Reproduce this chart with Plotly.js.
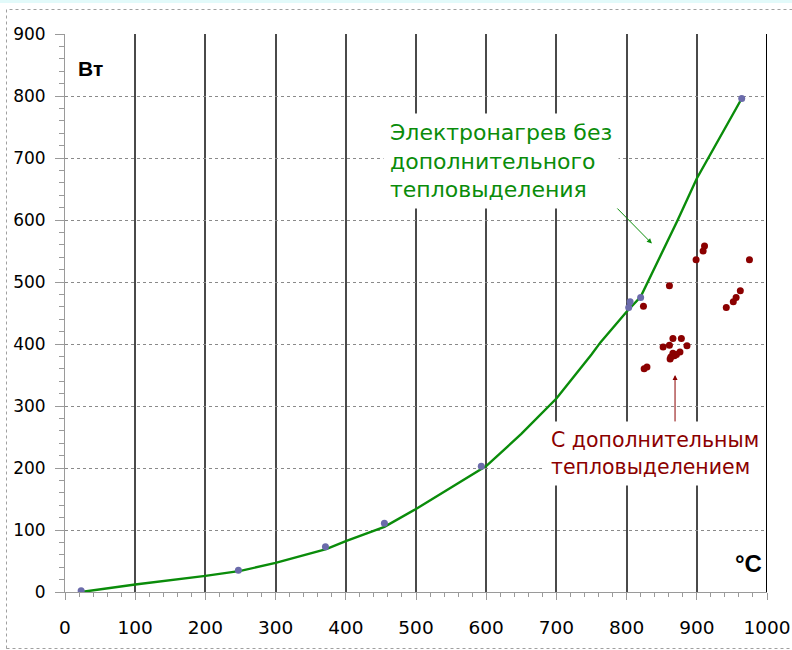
<!DOCTYPE html>
<html>
<head>
<meta charset="utf-8">
<script src="https://cdn.plot.ly/plotly-3.0.1.min.js"></script>
<style>
  html, body { margin: 0; padding: 0; background: #ffffff; }
  #chart { width: 792px; height: 650px; }
</style>
</head>
<body>
<div id="chart"></div>
<script>
// Electric heating power (W) versus temperature (°C)
const curveT = [23, 100, 200, 250, 300, 372, 400, 455, 500, 550, 590, 600, 650, 700, 750, 763, 800, 820, 840, 872, 900, 964];
const curveP = [0, 12, 26, 34, 47, 69, 82, 105, 134, 168, 195, 203, 255, 312, 383, 403, 452, 476, 523, 598, 667, 796];

// measured points on the electric-heating curve
const measT = [23, 247, 371, 455, 593, 803, 805, 820, 964];
const measP = [2, 35, 73, 111, 203, 459, 468, 475, 796];

// measured points with additional heat release
const extraT = [911, 909, 899, 975, 861, 962, 956, 952, 942, 824, 866, 878, 861, 852, 886, 876, 871, 863, 866, 868, 829, 825, 862];
const extraP = [558, 550, 536, 536, 494, 486, 475, 468, 459, 461, 409, 409, 398, 395, 397, 387, 383, 379, 385, 381, 363, 360, 376];

const xTickVals = [0, 100, 200, 300, 400, 500, 600, 700, 800, 900, 1000];
const yTickVals = [0, 100, 200, 300, 400, 500, 600, 700, 800, 900];

const greenLabel = 'Электронагрев без<br>дополнительного<br>тепловыделения';
const redLabel = 'С дополнительным<br>тепловыделением';

const traces = [
  {
    x: curveT, y: curveP, mode: 'lines', type: 'scatter',
    line: { color: '#0a8c0a', width: 2.4 }, hoverinfo: 'skip'
  },
  {
    x: measT, y: measP, mode: 'markers', type: 'scatter',
    marker: { color: '#6b6bab', size: 7 }, hoverinfo: 'skip'
  },
  {
    x: extraT, y: extraP, mode: 'markers', type: 'scatter',
    marker: { color: '#8b0000', size: 7 }, hoverinfo: 'skip'
  }
];

const layout = {
  width: 792, height: 650,
  margin: { l: 65, r: 25, t: 34, b: 58 },
  paper_bgcolor: '#ffffff',
  plot_bgcolor: '#ffffff',
  showlegend: false,
  xaxis: {
    range: [0, 1000], tickvals: xTickVals, ticktext: xTickVals.map(String),
    showgrid: true, gridcolor: '#4a4a4a', gridwidth: 2,
    zeroline: false, showline: true, linecolor: '#9a9a9a', linewidth: 1,
    ticks: 'outside', ticklen: 7, tickcolor: '#9a9a9a', tickwidth: 1,
    minor: { dtick: 20, ticks: 'outside', ticklen: 4, tickcolor: '#9a9a9a', showgrid: false },
    tickfont: { family: 'DejaVu Sans', size: 18.5, color: '#000000' },
    ticklabelstandoff: 12,
    fixedrange: true
  },
  yaxis: {
    range: [0, 900], tickvals: yTickVals, ticktext: yTickVals.map(String),
    showgrid: true, gridcolor: '#8a8a8a', gridwidth: 1, griddash: 'dot',
    zeroline: false, showline: true, linecolor: '#9a9a9a', linewidth: 1,
    ticks: 'outside', ticklen: 9, tickcolor: '#9a9a9a', tickwidth: 1,
    minor: { dtick: 20, ticks: 'outside', ticklen: 5, tickcolor: '#9a9a9a', showgrid: false },
    tickfont: { family: 'DejaVu Sans', size: 17, color: '#000000' },
    ticklabelstandoff: 6,
    fixedrange: true
  },
  shapes: [
    // right border of the plot area
    { type: 'line', xref: 'x', yref: 'paper', x0: 1000, x1: 1000, y0: 0, y1: 1,
      line: { color: '#000000', width: 2 } },
    // thin cyan strip at the top of the page
    { type: 'rect', xref: 'paper', yref: 'paper', x0: -0.2, x1: 1.2,
      y0: (592 - 0) / 558, y1: (592 - 3) / 558,
      fillcolor: '#e2fafa', line: { width: 0 }, layer: 'below' },
    // outer chart frame
    { type: 'rect', xref: 'paper', yref: 'paper',
      x0: (6.5 - 65) / 702, x1: (800 - 65) / 702,
      y0: (592 - 648.5) / 558, y1: (592 - 9.5) / 558,
      line: { color: '#a0a0a0', width: 1, dash: 'dot' }, fillcolor: 'rgba(0,0,0,0)', layer: 'below' }
  ],
  annotations: [
    { text: '<b>Вт</b>', xref: 'x', yref: 'y', x: 37, y: 845, showarrow: false,
      font: { family: 'Liberation Sans', size: 21, color: '#000000' } },
    { text: '<b>°C</b>', xref: 'x', yref: 'y', x: 973, y: 46, showarrow: false,
      font: { family: 'Liberation Sans', size: 24, color: '#000000' } },
    // arrow pointing to the curve
    { text: '', xref: 'x', yref: 'y', axref: 'x', ayref: 'y',
      x: 836, y: 562, ax: 743, ay: 669, showarrow: true,
      arrowhead: 2, arrowsize: 1, arrowwidth: 1, arrowcolor: '#0a8c0a' },
    // arrow pointing to the extra-heat cluster
    { text: '', xref: 'x', yref: 'y', axref: 'x', ayref: 'y',
      x: 869, y: 350, ax: 869, ay: 272, showarrow: true,
      arrowhead: 2, arrowsize: 1, arrowwidth: 1, arrowcolor: '#8b0000' },
    { text: greenLabel, xref: 'x', yref: 'y', x: 453, y: 695, xanchor: 'left', yanchor: 'middle',
      align: 'left', showarrow: false, bgcolor: '#ffffff', borderpad: 6,
      font: { family: 'DejaVu Sans', size: 22, color: '#0a8c0a' } },
    { text: redLabel, xref: 'x', yref: 'y', x: 682, y: 224, xanchor: 'left', yanchor: 'middle',
      align: 'left', showarrow: false, bgcolor: '#ffffff', borderpad: 6,
      font: { family: 'DejaVu Sans', size: 20.5, color: '#8b0000' } }
  ]
};

Plotly.newPlot('chart', traces, layout, { staticPlot: true, displayModeBar: false });
</script>
</body>
</html>
